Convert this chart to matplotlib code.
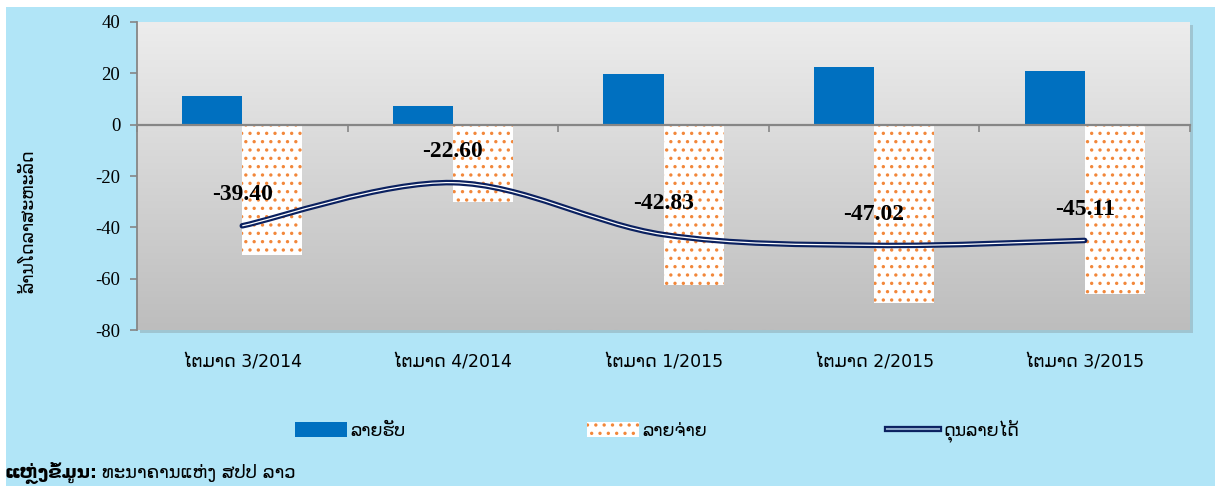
import matplotlib.pyplot as plt
import numpy as np
from matplotlib.patches import Rectangle, PathPatch
from matplotlib.path import Path
from matplotlib.lines import Line2D
from matplotlib.colors import LinearSegmentedColormap
import matplotlib.patheffects as pe
import matplotlib.transforms as mtransforms

plt.rcParams['font.family'] = ['DejaVu Sans']
plt.rcParams['hatch.linewidth'] = 1.2
plt.rcParams['axes.unicode_minus'] = False

quarters = ["ໄຕມາດ 3/2014", "ໄຕມາດ 4/2014", "ໄຕມາດ 1/2015", "ໄຕມາດ 2/2015", "ໄຕມາດ 3/2015"]
income = [11.2, 7.4, 19.7, 22.4, 20.9]
expense = [-50.6, -30.0, -62.5, -69.4, -66.0]
balance = [-39.40, -22.60, -42.83, -47.02, -45.11]
series_names = ["ລາຍຮັບ", "ລາຍຈ່າຍ", "ດຸນລາຍໄດ້"]

blue = "#0070C0"
orange = "#F2873A"
navy = "#0B2160"
bg = "#B1E5F7"
grey = "#868686"

W, H = 1215, 486
fig = plt.figure(figsize=(12.15, 4.86), dpi=100, facecolor="white")
fig.add_artist(Rectangle((6 / W, 0), 1, 1 - 7 / H, transform=fig.transFigure,
                         facecolor=bg, edgecolor="none", zorder=-5))
# soft shadow behind plot area
fig.add_artist(Rectangle((140 / W, 1 - 333 / H), 1053 / W, 308 / H, transform=fig.transFigure,
                         facecolor="#8A9FA6", edgecolor="none", alpha=0.45, zorder=-1))

ax = fig.add_axes([137 / W, 1 - 330 / H, 1053 / W, 308 / H])
ax.set_facecolor("none")

# gradient plot area
grad = np.linspace(0, 1, 256).reshape(-1, 1)
cmap = LinearSegmentedColormap.from_list("g", ["#EDEDED", "#BDBDBD"])
ax.imshow(grad, extent=[-0.5, 4.5, -80, 40], aspect="auto", cmap=cmap, zorder=0)

x = np.arange(len(quarters))
w = 0.285
ax.bar(x - w / 2, income, w, color=blue, zorder=2)
ax.bar(x + w / 2, expense, w, facecolor="white", edgecolor=orange, linewidth=0, hatch="..", zorder=2)

# smoothed balance line (bezier through the points)
pts = np.column_stack([x, balance])
ext = np.vstack([pts[0], pts, pts[-1]])
verts = [tuple(pts[0])]
codes = [Path.MOVETO]
for i in range(len(pts) - 1):
    p0, p1, p2, p3 = ext[i], ext[i + 1], ext[i + 2], ext[i + 3]
    c1 = p1 + (p2 - p0) / 6
    c2 = p2 - (p3 - p1) / 6
    verts += [tuple(c1), tuple(c2), tuple(p2)]
    codes += [Path.CURVE4] * 3
path = Path(verts, codes)
ax.add_patch(PathPatch(path, facecolor="none", edgecolor=navy, lw=4, zorder=3, capstyle="round"))
ax.add_patch(PathPatch(path, facecolor="none", edgecolor="white", lw=0.9, zorder=4))

for xi, v in zip(x, balance):
    ax.annotate(f"{v:.2f}", (xi, v), xytext=(0, 31), textcoords="offset pixels",
                ha="center", va="center", fontsize=17, fontweight="bold",
                family="Liberation Serif", zorder=5)

ax.set_xlim(-0.5, 4.5)
ax.set_ylim(-80, 40)
for s in ["top", "right"]:
    ax.spines[s].set_visible(False)
ax.spines["left"].set_color(grey)
ax.spines["left"].set_linewidth(1.3)
ax.spines["bottom"].set_position(("data", 0))
ax.spines["bottom"].set_color(grey)
ax.spines["bottom"].set_linewidth(1.6)
ax.set_xticks(np.arange(-0.5, 5, 1))
ax.set_xticklabels([])
ax.tick_params(axis="x", length=5, color=grey, width=1.2)
ax.set_yticks(range(-80, 41, 20))
ax.tick_params(axis="y", length=5, color=grey, width=1.2, labelsize=13.5, pad=7)
for lab in ax.get_yticklabels():
    lab.set_fontfamily("Liberation Serif")

trans = mtransforms.blended_transform_factory(ax.transData, ax.transAxes)
for xi, q in zip(x, quarters):
    ax.text(xi, -0.107, q, transform=trans, ha="center", va="center", fontsize=12.5)

handles = [
    Rectangle((0, 0), 1, 1, facecolor=blue),
    Rectangle((0, 0), 1, 1, facecolor="white", edgecolor=orange, lw=0, hatch=".."),
    Line2D([], [], color="#8EA8C8", lw=1.5,
           path_effects=[pe.Stroke(linewidth=4.5, foreground=navy), pe.Normal()]),
]
fig.legend(handles, series_names, loc="center", bbox_to_anchor=(657 / W, 1 - 431 / H),
           ncol=3, frameon=False, fontsize=12.5, handlelength=3.0, handleheight=1.0,
           handletextpad=0.2, columnspacing=10.4)

fig.text(28 / W, 1 - 221 / H, "ລ້ານໂດລາສະຫະລັດ", rotation=90, ha="center", va="center", fontsize=12.5)

t1 = fig.text(5 / W, 1 - 473 / H, "ແຫຼ່ງຂໍ້ມູນ:", fontweight="bold", fontsize=13, va="center")
ax.annotate("ທະນາຄານແຫ່ງ ສປປ ລາວ", xy=(1, 0.5), xycoords=t1, xytext=(3, 0),
            textcoords="offset points", va="center", ha="left", fontsize=13,
            annotation_clip=False)

fig.savefig("out.png", dpi=100, facecolor=fig.get_facecolor())
